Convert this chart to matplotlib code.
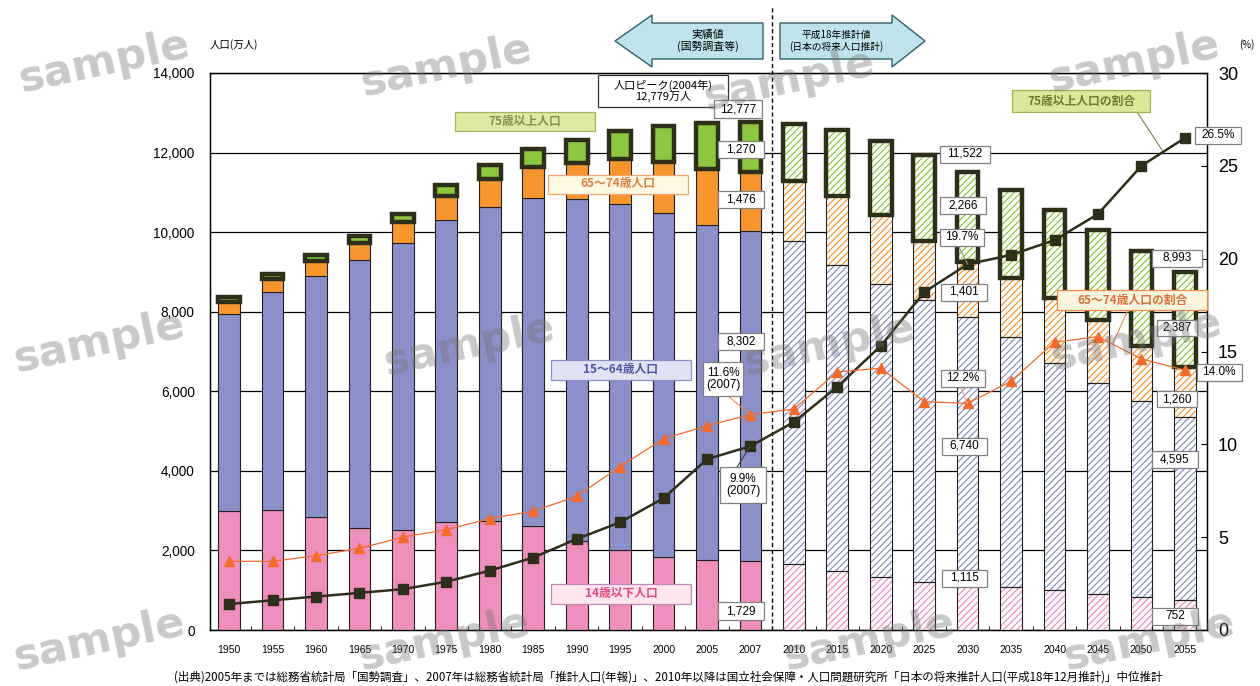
import numpy as np
import matplotlib.pyplot as plt
from matplotlib.patches import Rectangle, Polygon

plt.rcParams['font.family'] = ['Noto Sans CJK JP', 'DejaVu Sans']
plt.rcParams['hatch.linewidth'] = 0.9

# 人口(万人) 1950-2007 実績, 2010以降 推計
years = ['1950', '1955', '1960', '1965', '1970', '1975', '1980', '1985', '1990',
         '1995', '2000', '2005', '2007', '2010', '2015', '2020', '2025', '2030',
         '2035', '2040', '2045', '2050', '2055']
pop_0_14 = [2979, 3012, 2843, 2553, 2515, 2722, 2751, 2603, 2249, 2001, 1847, 1759, 1729,
            1648, 1484, 1324, 1195, 1115, 1073, 1008, 917, 821, 752]
pop_15_64 = [4966, 5473, 6047, 6744, 7212, 7581, 7883, 8251, 8590, 8716, 8622, 8409, 8302,
             8128, 7681, 7363, 7096, 6740, 6292, 5708, 5289, 4930, 4595]
pop_65_74 = [309, 336, 373, 431, 516, 603, 699, 776, 892, 1109, 1301, 1407, 1476,
             1517, 1749, 1733, 1479, 1401, 1485, 1638, 1587, 1388, 1260]
pop_75 = [107, 139, 163, 187, 224, 284, 366, 471, 597, 717, 900, 1160, 1270,
          1423, 1645, 1879, 2167, 2266, 2218, 2215, 2251, 2376, 2387]
# 総人口(公表値, 端数処理のため内訳合計と1ずれることがある)
total_2007, total_2030, total_2055 = 12777, 11522, 8993
# 割合(%)
rate_65_74 = [3.7, 3.7, 4.0, 4.4, 5.0, 5.4, 6.0, 6.4, 7.2, 8.8, 10.3, 11.0, 11.6,
              11.9, 13.9, 14.1, 12.3, 12.2, 13.4, 15.5, 15.8, 14.6, 14.0]
rate_75 = [1.4, 1.6, 1.8, 2.0, 2.2, 2.6, 3.2, 3.9, 4.9, 5.8, 7.1, 9.2, 9.9,
           11.2, 13.1, 15.3, 18.2, 19.7, 20.2, 21.0, 22.4, 25.0, 26.5]
n_actual = 13

DARK = '#2D2F1A'
ORANGE_LINE = '#F26A2C'

fig = plt.figure(figsize=(12.6, 6.86), dpi=100)
W, H = 1260, 686
ax = fig.add_axes([210 / W, 56 / H, 997 / W, 557 / H])
x = np.arange(len(years))
past, fut = x[:n_actual], x[n_actual:]

segments = [(pop_0_14, '#EF8FBE'), (pop_15_64, '#8C90C8'),
            (pop_65_74, '#F7952F'), (pop_75, '#8DC63F')]
base = np.zeros(len(years))
for k, (vals, col) in enumerate(segments):
    vals = np.array(vals, float)
    top = k == 3
    ec = DARK if top else '#222222'
    lw = 3.2 if top else 0.8
    z = 3.5 if top else 3
    ax.bar(past, vals[:n_actual], 0.5, bottom=base[:n_actual], color=col,
           edgecolor=ec, linewidth=lw, zorder=z)
    ax.bar(fut, vals[n_actual:], 0.5, bottom=base[n_actual:], color='white',
           edgecolor=col, hatch='/////', linewidth=0, zorder=z)
    ax.bar(fut, vals[n_actual:], 0.5, bottom=base[n_actual:], fill=False,
           edgecolor=ec, linewidth=lw, zorder=z + 0.1)
    base += vals

ax.set_xlim(-0.44, 22.51)
ax.set_ylim(0, 14000)
yt = np.arange(0, 14001, 2000)
ax.set_yticks(yt, [f'{v:,}' for v in yt], family='Liberation Sans')
ax.yaxis.grid(True, color='black', linewidth=0.9)
ax.set_axisbelow(True)
ax.set_xticks(x, years, family='Liberation Sans')
ax.set_xticks(np.arange(len(years) - 1) + 0.5, minor=True)
ax.tick_params(axis='x', which='major', length=0, pad=11, labelsize=7.5)
ax.tick_params(axis='x', which='minor', direction='in', length=3)
ax.tick_params(axis='y', length=0, pad=11, labelsize=9.8)
for s in ax.spines.values():
    s.set_linewidth(1)

# 実績/推計の境界
ax.plot([12.5, 12.5], [0, 15650], ls=(0, (3, 2)), color='black', lw=1,
        clip_on=False, zorder=2)

ax2 = ax.twinx()
ax2.set_ylim(0, 30)
ax2.set_yticks(range(0, 31, 5), [str(v) for v in range(0, 31, 5)], family='Liberation Sans')
ax2.tick_params(axis='y', direction='in', length=4, pad=8, labelsize=13)
ax2.plot(x, rate_75, color=DARK, lw=1.8, marker='s', ms=6.5, zorder=4)
ax2.plot(x, rate_65_74, color=ORANGE_LINE, lw=0.9, marker='^', ms=7.5, zorder=4)

# 注記用のピクセル座標レイヤー
ov = fig.add_axes([0, 0, 1, 1])
ov.set_xlim(0, W)
ov.set_ylim(H, 0)
ov.set_axis_off()


def px(axis, xd, yd):
    X, Y = axis.transData.transform((xd, yd))
    return X, H - Y


def tag(cx, cy, w, h, text, fc='white', ec='#808080', tc='black', size=8.5,
        family=('Liberation Sans', 'Noto Sans CJK JP'), weight='normal', lw=0.9):
    ov.add_patch(Rectangle((cx - w / 2, cy - h / 2), w, h, facecolor=fc,
                           edgecolor=ec, linewidth=lw, zorder=5))
    ov.text(cx, cy, text, ha='center', va='center', color=tc, fontsize=size,
            family=list(family), fontweight=weight, linespacing=1.0, zorder=6)


def leader(x0, y0, x1, y1, color):
    ov.plot([x0, x1], [y0, y1], color=color, lw=0.8, zorder=4.5)


# 矢印
ov.add_patch(Polygon([(615, 41), (652, 15), (652, 23), (763, 23), (763, 59), (652, 59),
                      (652, 67)], facecolor='#BFE3EA', edgecolor='#2F5F6A', lw=1, zorder=5))
ov.add_patch(Polygon([(780, 23), (892, 23), (892, 15), (925, 41), (892, 67), (892, 59),
                      (780, 59)], facecolor='#BFE3EA', edgecolor='#2F5F6A', lw=1, zorder=5))
ov.text(708, 41, '実績値\n(国勢調査等)', ha='center', va='center', fontsize=7.8,
        linespacing=1.1, zorder=6)
ov.text(836, 41, '平成18年推計値\n(日本の将来人口推計)', ha='center', va='center',
        fontsize=7, linespacing=1.1, zorder=6)

ov.text(210, 45, '人口(万人)', ha='left', va='center', fontsize=7.5)
ov.text(1247, 45, '(%)', ha='center', va='center', fontsize=7)

# 区分ラベル
tag(525, 121, 140, 19, '75歳以上人口', fc='#DDE8A0', ec='#A7B560', tc='#8A8F55',
    family=('Noto Sans CJK JP',), weight='bold')
tag(618, 184, 140, 19, '65〜74歳人口', fc='#FDF8E4', ec='#F4A46E', tc='#E08040',
    family=('Noto Sans CJK JP',), weight='bold')
tag(621, 370, 140, 20, '15〜64歳人口', fc='#E1E3F3', ec='#8C90C8', tc='#4E58A8',
    family=('Noto Sans CJK JP',), weight='bold')
tag(621, 594, 140, 20, '14歳以下人口', fc='#FDE6EE', ec='#C387B5', tc='#E8457E',
    family=('Noto Sans CJK JP',), weight='bold')

# 割合ラベル
leader(1137, 112, 1162, 150, '#7F7F50')
tag(1081, 101, 138, 22, '75歳以上人口の割合', fc='#D8E79A', ec='#9FB151', tc='#6F7D2D',
    family=('Noto Sans CJK JP',), weight='bold')
leader(1128, 310, 1113, 343, '#F08A50')
tag(1132, 300, 150, 20, '65〜74歳人口の割合', fc='#FCF6E0', ec='#F08A50', tc='#D8703A',
    family=('Noto Sans CJK JP',), weight='bold')

tag(663, 91, 130, 32, '人口ピーク(2004年)\n12,779万人', ec='#333333',
    family=('Noto Sans CJK JP',), size=8)

# 数値ラベル
tx, ty = px(ax2, 12, rate_65_74[12])
leader(728, 396, tx, ty, '#F08A50')
sx, sy = px(ax2, 12, rate_75[12])
leader(737, 467, sx, sy, '#404040')
sx, sy = px(ax2, 17, rate_75[17])
leader(958, 245, sx, sy, '#909090')
tx, ty = px(ax2, 17, rate_65_74[17])
leader(960, 386, tx, ty, '#F0A080')

tag(738, 109, 48, 18, f'{total_2007:,}')
tag(741, 149, 46, 17, f'{pop_75[12]:,}')
tag(741, 199, 46, 17, f'{pop_65_74[12]:,}')
tag(741, 341, 46, 17, f'{pop_15_64[12]:,}')
tag(723, 379, 40, 34, f'{rate_65_74[12]}%\n(2007)')
tag(743, 485, 46, 36, f'{rate_75[12]}%\n(2007)')
tag(741, 611, 46, 18, f'{pop_0_14[12]:,}')

tag(965, 154, 50, 17, f'{total_2030:,}')
tag(963, 205, 46, 17, f'{pop_75[17]:,}')
tag(962, 237, 44, 17, f'{rate_75[17]}%')
tag(964, 292, 46, 17, f'{pop_65_74[17]:,}')
tag(963, 378, 44, 17, f'{rate_65_74[17]}%')
tag(964, 446, 45, 17, f'{pop_15_64[17]:,}')
tag(964, 578, 45, 17, f'{pop_0_14[17]:,}')

tag(1177, 258, 50, 17, f'{total_2055:,}')
tag(1177, 328, 40, 16, f'{pop_75[22]:,}')
tag(1218, 135, 46, 17, f'{rate_75[22]}%')
tag(1219, 372, 45, 17, f'{rate_65_74[22]}%')
tag(1177, 399, 40, 16, f'{pop_65_74[22]:,}')
tag(1175, 459, 46, 17, f'{pop_15_64[22]:,}')
tag(1175, 616, 46, 17, f'{pop_0_14[22]:,}')

ov.text(668, 677, '(出典)2005年までは総務省統計局「国勢調査」、2007年は総務省統計局「推計人口(年報)」、'
        '2010年以降は国立社会保障・人口問題研究所「日本の将来推計人口(平成18年12月推計)」中位推計',
        ha='center', va='center', fontsize=8.3)

# 透かし
for cx, cy in [(105, 62), (447, 66), (790, 80), (1135, 62),
               (100, 342), (470, 345), (830, 345), (1137, 340),
               (100, 640), (445, 640), (870, 640), (1150, 640)]:
    ov.text(cx, cy, 'sample', ha='center', va='center', fontsize=31, rotation=12,
            fontweight='bold', family='DejaVu Sans', color='#707070', alpha=0.38, zorder=8)

fig.savefig('out.png', dpi=100)
